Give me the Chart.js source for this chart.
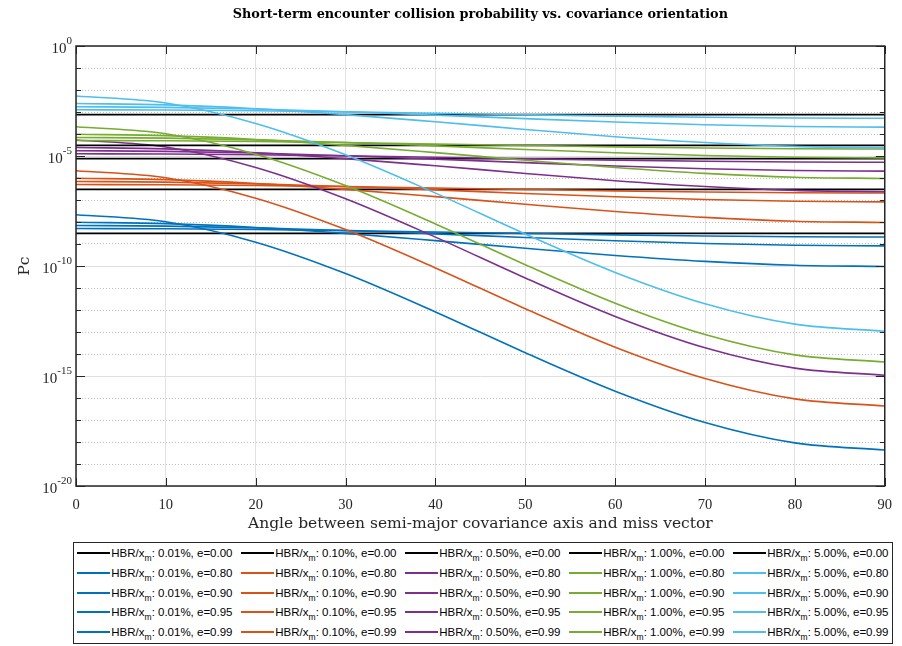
<!DOCTYPE html>
<html>
<head>
<meta charset="utf-8">
<title>Short-term encounter collision probability vs. covariance orientation</title>
<script src="https://cdn.jsdelivr.net/npm/chart.js@4/dist/chart.umd.min.js"></script>
<style>
  html, body { margin: 0; padding: 0; background: #ffffff; }
  #wrap { position: relative; width: 902px; height: 646px; overflow: hidden; }
  #plot { position: absolute; left: 0; top: 0; }
  #legend {
    position: absolute; left: 73px; top: 542px; width: 818px; height: 100px;
    border: 1px solid #262626; background: #ffffff;
    font-family: "Liberation Sans", Arial, sans-serif; font-size: 11.5px; color: #000000;
  }
  .item { position: absolute; height: 14px; width: 160px; white-space: nowrap; }
  .swatch { position: absolute; left: 0; top: 6px; width: 33px; height: 2px; }
  .txt { position: absolute; left: 34px; top: 0; line-height: 14px; }
  .sub { font-size: 8.5px; position: relative; top: 4px; }
</style>
</head>
<body>
<div id="wrap">
  <canvas id="plot" width="902" height="646"></canvas>
  <div id="legend"></div>
</div>
<script>
// Angle between the semi-major covariance axis and the miss vector (deg)
const angles = [0, 10, 20, 30, 40, 50, 60, 70, 80, 90];
const hbrLabels = ['0.01%', '0.10%', '0.50%', '1.00%', '5.00%'];
const eccLabels = ['0.00', '0.80', '0.90', '0.95', '0.99'];
const hbrColors = ['#0072BD', '#D95319', '#7E2F8E', '#77AC30', '#4DBEEE'];
const yDecades = [0, -1, -2, -3, -4, -5, -6, -7, -8, -9, -10, -11, -12, -13, -14, -15, -16, -17, -18, -19, -20];

// Pc, HBR/x_m = 0.01%
const pc001e00 = [3.03e-9, 3.03e-9, 3.03e-9, 3.03e-9, 3.03e-9, 3.03e-9, 3.03e-9, 3.03e-9, 3.03e-9, 3.03e-9];
const pc001e80 = [5.05e-9, 4.92e-9, 4.56e-9, 4.05e-9, 3.50e-9, 3.00e-9, 2.59e-9, 2.31e-9, 2.13e-9, 2.08e-9];
const pc001e90 = [6.96e-9, 6.52e-9, 5.42e-9, 4.08e-9, 2.88e-9, 1.99e-9, 1.41e-9, 1.06e-9, 8.80e-10, 8.25e-10];
const pc001e95 = [9.71e-9, 8.45e-9, 5.65e-9, 3.05e-9, 1.43e-9, 6.42e-10, 3.02e-10, 1.63e-10, 1.09e-10, 9.49e-11];
const pc001e99 = [2.15e-8, 1.02e-8, 1.21e-9, 4.55e-11, 8.19e-13, 1.14e-14, 2.05e-16, 7.73e-18, 9.12e-19, 4.34e-19];

// Pc, HBR/x_m = 0.10%
const pc010e00 = [3.03e-7, 3.03e-7, 3.03e-7, 3.03e-7, 3.03e-7, 3.03e-7, 3.03e-7, 3.03e-7, 3.03e-7, 3.03e-7];
const pc010e80 = [5.05e-7, 4.92e-7, 4.56e-7, 4.05e-7, 3.50e-7, 3.00e-7, 2.59e-7, 2.31e-7, 2.13e-7, 2.08e-7];
const pc010e90 = [6.96e-7, 6.52e-7, 5.42e-7, 4.08e-7, 2.88e-7, 1.99e-7, 1.41e-7, 1.06e-7, 8.80e-8, 8.25e-8];
const pc010e95 = [9.71e-7, 8.45e-7, 5.65e-7, 3.05e-7, 1.43e-7, 6.42e-8, 3.02e-8, 1.63e-8, 1.09e-8, 9.49e-9];
const pc010e99 = [2.15e-6, 1.02e-6, 1.21e-7, 4.55e-9, 8.19e-11, 1.14e-12, 2.05e-14, 7.73e-16, 9.12e-17, 4.34e-17];

// Pc, HBR/x_m = 0.50%
const pc050e00 = [7.58e-6, 7.58e-6, 7.58e-6, 7.58e-6, 7.58e-6, 7.58e-6, 7.58e-6, 7.58e-6, 7.58e-6, 7.58e-6];
const pc050e80 = [1.26e-5, 1.23e-5, 1.14e-5, 1.01e-5, 8.75e-6, 7.50e-6, 6.49e-6, 5.76e-6, 5.34e-6, 5.19e-6];
const pc050e90 = [1.74e-5, 1.63e-5, 1.36e-5, 1.02e-5, 7.21e-6, 4.98e-6, 3.52e-6, 2.65e-6, 2.20e-6, 2.06e-6];
const pc050e95 = [2.43e-5, 2.11e-5, 1.41e-5, 7.63e-6, 3.59e-6, 1.61e-6, 7.55e-7, 4.08e-7, 2.73e-7, 2.37e-7];
const pc050e99 = [5.37e-5, 2.56e-5, 3.01e-6, 1.14e-7, 2.05e-9, 2.85e-11, 5.12e-13, 1.93e-14, 2.28e-15, 1.08e-15];

// Pc, HBR/x_m = 1.00%
const pc100e00 = [3.03e-5, 3.03e-5, 3.03e-5, 3.03e-5, 3.03e-5, 3.03e-5, 3.03e-5, 3.03e-5, 3.03e-5, 3.03e-5];
const pc100e80 = [5.05e-5, 4.92e-5, 4.56e-5, 4.05e-5, 3.50e-5, 3.00e-5, 2.59e-5, 2.31e-5, 2.13e-5, 2.08e-5];
const pc100e90 = [6.96e-5, 6.52e-5, 5.42e-5, 4.08e-5, 2.88e-5, 1.99e-5, 1.41e-5, 1.06e-5, 8.80e-6, 8.25e-6];
const pc100e95 = [9.71e-5, 8.45e-5, 5.65e-5, 3.05e-5, 1.43e-5, 6.42e-6, 3.02e-6, 1.63e-6, 1.09e-6, 9.49e-7];
const pc100e99 = [2.15e-4, 1.02e-4, 1.21e-5, 4.55e-7, 8.19e-9, 1.14e-10, 2.05e-12, 7.73e-14, 9.12e-15, 4.34e-15];

// Pc, HBR/x_m = 5.00%
const pc500e00 = [7.58e-4, 7.58e-4, 7.58e-4, 7.58e-4, 7.58e-4, 7.58e-4, 7.58e-4, 7.58e-4, 7.58e-4, 7.58e-4];
const pc500e80 = [1.26e-3, 1.23e-3, 1.14e-3, 1.01e-3, 8.75e-4, 7.50e-4, 6.49e-4, 5.76e-4, 5.34e-4, 5.19e-4];
const pc500e90 = [1.74e-3, 1.63e-3, 1.36e-3, 1.02e-3, 7.21e-4, 4.98e-4, 3.52e-4, 2.65e-4, 2.20e-4, 2.06e-4];
const pc500e95 = [2.43e-3, 2.11e-3, 1.41e-3, 7.63e-4, 3.59e-4, 1.61e-4, 7.55e-5, 4.08e-5, 2.73e-5, 2.37e-5];
const pc500e99 = [5.37e-3, 2.56e-3, 3.01e-4, 1.14e-5, 2.05e-7, 2.85e-9, 5.12e-11, 1.93e-12, 2.28e-13, 1.08e-13];

const seriesByHbr = [
  [pc001e00, pc001e80, pc001e90, pc001e95, pc001e99],
  [pc010e00, pc010e80, pc010e90, pc010e95, pc010e99],
  [pc050e00, pc050e80, pc050e90, pc050e95, pc050e99],
  [pc100e00, pc100e80, pc100e90, pc100e95, pc100e99],
  [pc500e00, pc500e80, pc500e90, pc500e95, pc500e99]
];

const SERIF = '"Liberation Serif", "Times New Roman", serif';
const WIDE_SERIF = '"DejaVu Serif", Georgia, serif';
const AXIS_INK = '#262626';

const datasets = [];
seriesByHbr.forEach((group, h) => {
  group.forEach((vals, k) => {
    const idx = h * 5 + k;
    datasets.push({
      label: 'HBR/x_m: ' + hbrLabels[h] + ', e=' + eccLabels[k],
      data: angles.map((a, i) => ({ x: a, y: vals[i] })),
      borderColor: k === 0 ? '#000000' : hbrColors[h],
      backgroundColor: k === 0 ? '#000000' : hbrColors[h],
      borderWidth: 1.6,
      pointRadius: 0,
      pointHoverRadius: 0,
      fill: false,
      cubicInterpolationMode: 'monotone',
      order: -idx
    });
  });
});

const expOf = v => Math.round(Math.log10(v));

// Box, inward tick marks, power-of-ten labels and titles
const axesDecor = {
  id: 'axesDecor',
  afterDraw(chart) {
    const { ctx, chartArea: ca, scales } = chart;
    const xs = scales.x, ys = scales.y;
    ctx.save();
    ctx.strokeStyle = AXIS_INK;
    ctx.lineWidth = 1;
    ctx.beginPath();
    angles.forEach(a => {
      const px = Math.round(xs.getPixelForValue(a)) + 0.5;
      ctx.moveTo(px, ca.bottom); ctx.lineTo(px, ca.bottom - 8);
      ctx.moveTo(px, ca.top); ctx.lineTo(px, ca.top + 8);
    });
    yDecades.forEach(e => {
      const py = Math.round(ys.getPixelForValue(Math.pow(10, e))) + 0.5;
      const len = e % 5 === 0 ? 9 : 5;
      ctx.moveTo(ca.left, py); ctx.lineTo(ca.left + len, py);
      ctx.moveTo(ca.right, py); ctx.lineTo(ca.right - len, py);
    });
    ctx.stroke();

    ctx.lineWidth = 1.5;
    ctx.strokeRect(ca.left, ca.top, ca.right - ca.left, ca.bottom - ca.top);

    // y labels: 10^k every five decades
    ctx.fillStyle = AXIS_INK;
    ctx.textBaseline = 'middle';
    ctx.textAlign = 'left';
    yDecades.filter(e => e % 5 === 0).forEach(e => {
      const py = ys.getPixelForValue(Math.pow(10, e));
      const sup = String(e);
      ctx.font = '11px ' + SERIF;
      const supW = ctx.measureText(sup).width;
      ctx.font = '15px ' + SERIF;
      const baseW = ctx.measureText('10').width;
      const right = ca.left - 4;
      ctx.fillText('10', right - supW - baseW, py + 3);
      ctx.font = '11px ' + SERIF;
      ctx.fillText(sup, right - supW, py - 5);
    });

    // y axis title
    ctx.save();
    ctx.translate(25, (ca.top + ca.bottom) / 2);
    ctx.rotate(-Math.PI / 2);
    ctx.textAlign = 'center';
    ctx.font = '15.5px ' + WIDE_SERIF;
    ctx.fillText('Pc', 0, 0);
    ctx.restore();

    // chart title
    ctx.fillStyle = '#000000';
    ctx.textAlign = 'center';
    ctx.font = 'bold 12.8px ' + WIDE_SERIF;
    ctx.fillText('Short-term encounter collision probability vs. covariance orientation', (ca.left + ca.right) / 2, 15);
    ctx.restore();
  }
};

const chart = new Chart(document.getElementById('plot'), {
  type: 'line',
  data: { datasets },
  plugins: [axesDecor],
  options: {
    responsive: false,
    devicePixelRatio: 1,
    animation: false,
    events: [],
    layout: { padding: { left: 0, right: 9, top: 46, bottom: 109 } },
    plugins: { legend: { display: false }, title: { display: false }, tooltip: { enabled: false } },
    scales: {
      x: {
        type: 'linear',
        min: 0,
        max: 90,
        afterBuildTicks: s => { s.ticks = angles.map(v => ({ value: v })); },
        afterFit: s => { s.height = 51; },
        ticks: { font: { family: SERIF, size: 14.5 }, color: AXIS_INK, padding: 10, maxRotation: 0, autoSkip: false },
        grid: { color: '#e2e2e2', lineWidth: 1, drawTicks: false },
        border: { display: false },
        title: {
          display: true,
          text: 'Angle between semi-major covariance axis and miss vector',
          font: { family: WIDE_SERIF, size: 15.5 },
          color: AXIS_INK,
          padding: { top: 4, bottom: 4 }
        }
      },
      y: {
        type: 'logarithmic',
        min: 1e-20,
        max: 1,
        afterBuildTicks: s => { s.ticks = yDecades.map(e => ({ value: Math.pow(10, e) })); },
        afterFit: s => { s.width = 76; },
        ticks: { display: false },
        grid: {
          color: c => (c.tick && expOf(c.tick.value) % 5 === 0) ? '#e0e0e0' : '#bdbdbd',
          lineWidth: 1,
          drawTicks: false
        },
        border: {
          display: false,
          dash: c => (c.tick && expOf(c.tick.value) % 5 !== 0) ? [1, 2] : []
        }
      }
    }
  }
});

// Legend: one column per HBR/x_m, one row per eccentricity
const legend = document.getElementById('legend');
chart.data.datasets.forEach((ds, i) => {
  const col = Math.floor(i / 5), row = i % 5;
  const item = document.createElement('div');
  item.className = 'item';
  item.style.left = (3.3 + col * 164) + 'px';
  item.style.top = (10.3 + row * 19.6 - 7) + 'px';
  const sw = document.createElement('div');
  sw.className = 'swatch';
  sw.style.background = ds.borderColor;
  const txt = document.createElement('span');
  txt.className = 'txt';
  txt.innerHTML = 'HBR/x<span class="sub">m</span>: ' + hbrLabels[col] + ', e=' + eccLabels[row];
  item.appendChild(sw);
  item.appendChild(txt);
  legend.appendChild(item);
});
</script>
</body>
</html>
